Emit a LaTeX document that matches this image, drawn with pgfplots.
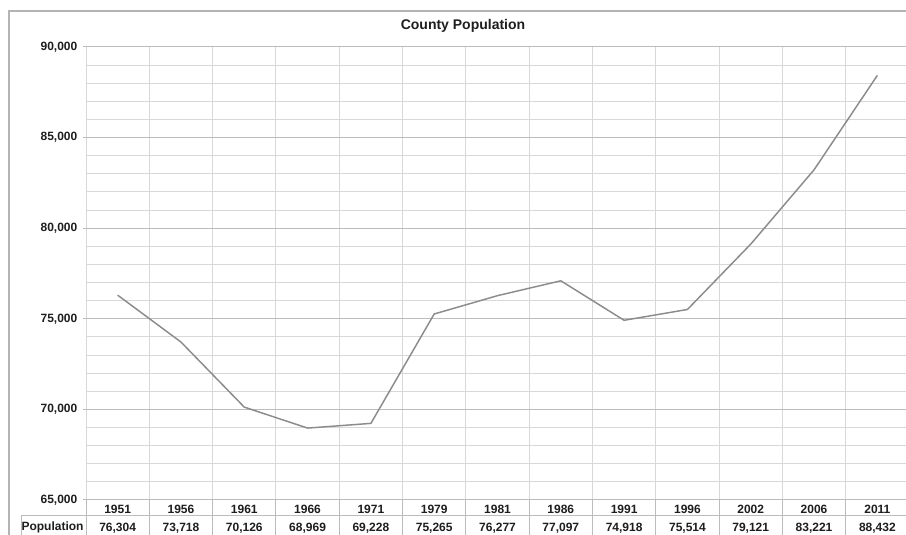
\documentclass[border=0pt]{standalone}
\usepackage{pgfplots}
\pgfplotsset{compat=1.18}
\usepackage{fontspec}
\setmainfont{Liberation Sans}
\definecolor{majg}{HTML}{BCBCBC}
\definecolor{ming}{HTML}{D8D8D8}
\definecolor{frameg}{HTML}{B4B4B4}
\definecolor{linec}{HTML}{8C8C8C}
\definecolor{txt}{HTML}{1E1E1E}
\begin{document}
\begin{tikzpicture}[x=0.75pt,y=0.75pt]
\useasboundingbox (0,0) rectangle (906,535);
\fill[white] (0,0) rectangle (906,535);
\begin{scope}
\clip (0,0) rectangle (906,535);
\begin{axis}[
  at={(64.5pt,26.25pt)}, anchor=south west,
  scale only axis, width=617.25pt, height=339.75pt,
  xmin=-0.5, xmax=12.5, ymin=65000, ymax=90000,
  axis line style={draw=none},
  tick style={draw=none},
  scaled y ticks=false,
  xtick={0,...,12},
  xticklabels={{1951\\76,304},{1956\\73,718},{1961\\70,126},{1966\\68,969},{1971\\69,228},{1979\\75,265},{1981\\76,277},{1986\\77,097},{1991\\74,918},{1996\\75,514},{2002\\79,121},{2006\\83,221},{2011\\88,432}},
  minor xtick={-0.5,0.5,...,12.5},
  ytick={65000,70000,75000,80000,85000,90000},
  minor ytick={66000,67000,68000,69000,71000,72000,73000,74000,76000,77000,78000,79000,81000,82000,83000,84000,86000,87000,88000,89000},
  xminorgrids, ymajorgrids, yminorgrids,
  major grid style={draw=majg, line width=0.75pt},
  minor grid style={draw=ming, line width=0.75pt},
  /pgf/number format/.cd, fixed, 1000 sep={,}, assume math mode=true,
  /pgfplots/.cd,
  yticklabel style={font=\bfseries\fontsize{9}{10}\selectfont, text=txt, xshift=-3pt},
  xticklabel style={font=\bfseries\fontsize{9}{13.5}\selectfont, text=txt, align=center, yshift=0pt},
]
\addplot[draw=linec, line width=1.1pt, mark=none] coordinates {
(0,76304) (1,73718) (2,70126) (3,68969) (4,69228) (5,75265) (6,76277)
(7,77097) (8,74918) (9,75514) (10,79121) (11,83221) (12,88432)};
\end{axis}
\foreach \k in {0,...,13} \draw[majg, line width=0.75pt] (86+\k*63.31,0) -- (86+\k*63.31,35);
\draw[majg, line width=0.75pt] (21,19) -- (906,19);
\draw[majg, line width=0.75pt] (21,0) -- (21,19);
\draw[majg, line width=0.75pt] (83,35) -- (906,35);
\foreach \v in {35,125.6,216.2,306.8,397.4,488} \draw[majg, line width=0.75pt] (83,\v) -- (86,\v);
\draw[frameg, line width=1pt] (9,0) -- (9,524) -- (906,524);
\end{scope}
\node[font=\bfseries\fontsize{10.5}{12}\selectfont, text=txt] at (463,509) {County Population};
\node[font=\bfseries\fontsize{9}{10}\selectfont, text=txt] at (52.5,8) {Population};
\end{tikzpicture}
\end{document}
